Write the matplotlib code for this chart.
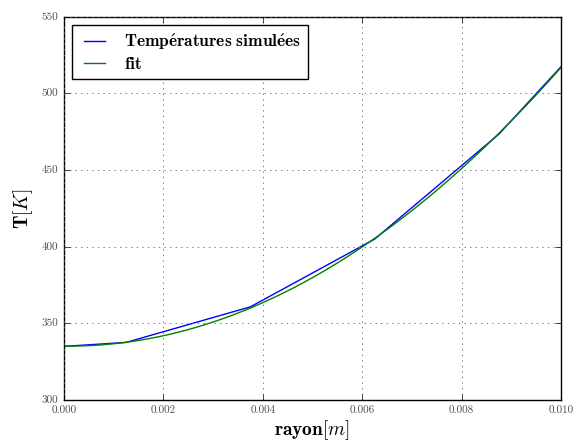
import numpy as np
import matplotlib
matplotlib.use("Agg")
import matplotlib.pyplot as plt

# simulated temperatures (boundaries + cell centres)
rayon = [0.0, 0.00125, 0.00375, 0.00625, 0.00875, 0.010]
temp_sim = [335.0, 337.6, 360.8, 405.0, 473.5, 517.5]

xticks = [0.000, 0.002, 0.004, 0.006, 0.008, 0.010]
yticks = [300, 350, 400, 450, 500, 550]

# quadratic fit of the simulated profile
coef = np.polyfit(rayon, temp_sim, 2)
r_fit = np.linspace(0, 0.010, 200)
t_fit = np.polyval(coef, r_fit)

plt.style.use('classic')
plt.rcParams['mathtext.fontset'] = 'cm'
plt.rcParams['font.family'] = ['cmr10', 'DejaVu Serif']
plt.rcParams['axes.formatter.use_mathtext'] = True

fig = plt.figure(figsize=(5.74, 4.43), dpi=100)
ax = fig.add_axes([0.1115, 0.097, 0.866, 0.865])

ax.plot(rayon, temp_sim, color='b', lw=1, label=r'$\mathbf{Temp\acute{e}ratures\ simul\acute{e}es}$')
ax.plot(r_fit, t_fit, color='g', lw=1, label=r'$\mathbf{fit}$')

ax.set_xlim(0, 0.010)
ax.set_ylim(300, 550)
ax.set_xticks(xticks)
ax.set_xticklabels([f'{v:.3f}' for v in xticks])
ax.set_yticks(yticks)
ax.set_yticklabels([str(v) for v in yticks])
ax.tick_params(labelsize=8, labelcolor='0.3')
ax.grid(True, color='0.4', ls=':', lw=0.6)

ax.set_xlabel(r'$\mathbf{rayon}[m]$', fontsize=14, labelpad=2)
ax.set_ylabel(r'$\mathbf{T}[K]$', fontsize=14)

leg = ax.legend(loc='upper left', fontsize=12.5, handlelength=1.8,
                labelspacing=0.25, borderaxespad=0.45)
leg.get_frame().set_linewidth(1)

fig.savefig('out.png', dpi=100)
